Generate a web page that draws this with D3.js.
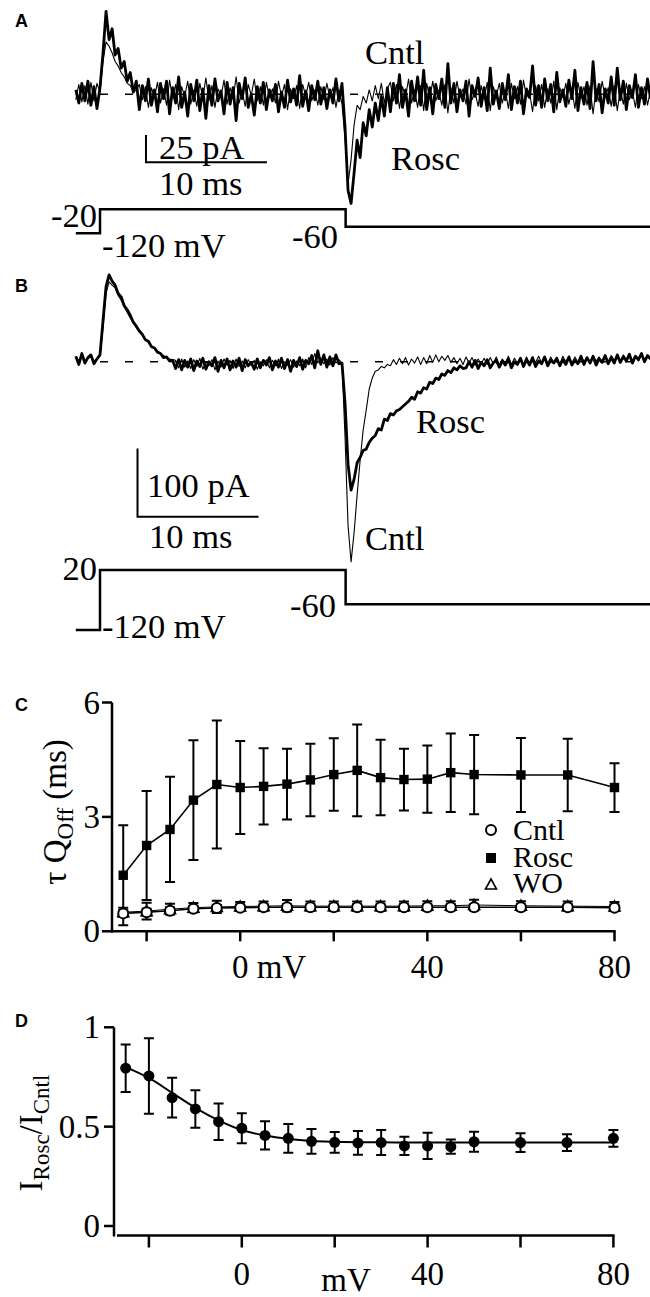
<!DOCTYPE html>
<html><head><meta charset="utf-8">
<script src="https://cdn.jsdelivr.net/npm/d3@7"></script>
<style>
body{margin:0;background:#fff}
svg{display:block}
</style>
</head><body>
<svg id="c" width="650" height="1297" font-family="'Liberation Serif', 'Times New Roman', Times, serif"></svg>
<script>
// ---------------- DATA ----------------
// current traces, sampled every 0.25 ms starting at -2 ms (pA)
const traceStart = -2, traceStep = 0.25;
const aRosc = [4,-8,10,-6,12,-10,7,-13,
 6,38,76,50,60,36,42,24,30,12,20,2,12,
 -14,8,-6,14,-10,4,-16,10,-4,12,-18,6,-8,16,-12,2,-20,9,-6,13,-15,5,-22,8,-10,14,-6,3,-18,11,
 -9,6,-24,10,-4,15,-12,0,-19,7,-8,11,-14,4,-6,9,-16,2,-12,13,-7,5,-10,17,-11,3,-15,8,-5,12,
 -9,6,-13,4,-8,14,-6,10,
 -30,-88,-100,-72,-42,-58,-26,-38,-14,-30,-8,-24,-2,-20,6,
 -16,10,-8,18,-12,4,-20,12,-6,16,-10,22,-14,6,-18,9,-4,14,-12,28,-8,10,-16,4,-6,12,-20,8,-2,15,
 -11,6,-15,24,-9,3,-13,10,-5,18,-14,7,-8,12,-18,5,-3,26,-10,8,-12,14,-6,9,-16,20,-7,4,-11,13,
 -4,22,-15,6,-9,11,-13,30,-6,9,-17,5,-8,16,-10,24,-5,12,-14,8,-3,18,-12,6,-9,14,-4];
const aCntl = [-5,9,-7,8,-9,11,-6,10,
 2,30,48,44,38,30,26,20,16,10,8,2,4,
 9,-5,7,-12,6,-3,11,-8,5,-10,13,-4,9,-14,7,-2,12,-9,4,-11,10,-3,15,-6,8,-12,5,-2,13,-9,
 6,-4,16,-8,3,-11,9,-1,14,-6,7,-10,11,-3,5,-8,12,-2,9,-14,5,-4,8,-13,9,-2,11,-6,4,-10,
 7,-5,10,-3,6,-12,4,-9,
 -40,-82,-60,-28,-10,-14,-2,-8,4,-6,8,-4,10,-8,5,
 11,-6,9,-13,7,-3,14,-8,4,-12,8,-15,10,-4,12,-6,3,-10,9,-17,6,-8,12,-3,5,-9,14,-5,2,-11,
 8,-5,11,-15,7,-2,10,-8,4,-13,10,-4,7,-9,13,-3,2,-16,8,-6,9,-12,5,-8,12,-14,6,-3,10,-9,
 4,-13,11,-4,7,-10,8,-18,5,-7,12,-3,6,-11,8,-15,4,-9,10,-5,3,-12,9,-4,7,-10,4];
const bRosc = [8,-4,12,-2,6,10,-3,4,
 10,60,110,127,118,112,100,95,82,76,68,58,52,45,40,32,30,22,20,14,12,6,7,1,2,
 -10,3,-12,2,-8,4,-13,1,-7,5,-11,0,-6,6,-14,2,-9,4,-12,1,-8,5,-13,3,-6,-1,-11,4,-9,2,
 -5,6,-12,1,-8,5,-10,3,-14,2,-7,6,-11,2,-3,9,-9,16,-4,10,-8,7,-6,10,-3,
 -2,-60,-150,-188,-172,-148,-140,-130,-128,-118,-112,-108,-98,-100,-84,-86,-76,-78,-72,-70,
 -66,-62,-58,-52,-55,-44,-46,-38,-40,-30,-32,-24,-26,-18,-20,-13,-16,-9,-12,-6,-10,
 -9,0,-8,2,-10,-1,-6,3,-9,-2,2,-8,1,-5,4,-9,0,-4,5,-7,3,-5,6,-7,1,-3,7,-6,2,-2,
 5,-6,3,-4,7,-5,2,-3,8,-4,6,-2,8,-5,4,-1,9,-3,6,-2,10,-1,7,1,11,-2,8,3,12,0,9,4];
const bCntl = [6,2,9,0,5,8,1,4,
 8,50,100,117,112,108,97,90,80,72,64,57,50,44,38,33,28,23,20,15,12,9,6,4,3,
 2,-9,4,-8,1,-10,3,-7,5,-11,0,-6,3,-12,1,-8,4,-5,2,-10,4,-7,1,-9,3,-5,2,-11,0,-6,
 3,-9,2,-6,4,-10,0,-5,3,-8,1,-6,4,-9,6,-4,12,-2,5,-3,4,-5,6,-2,3,
 -2,-110,-240,-293,-250,-195,-144,-100,-71,-40,-24,-14,-12,-7,-9,-4,-6,
 3,-4,5,-3,6,-5,4,-2,7,-4,6,-3,9,-1,10,0,8,2,9,-1,6,-3,5,-4,7,-2,6,-5,4,-3,
 5,-4,6,-3,7,-5,4,-2,8,-4,5,-2,6,-4,7,-3,5,-1,8,-2,6,-3,7,-1,5,-4,8,0,6,-2,
 7,-1,8,0,6,-2,9,1,7,-1,8,0,9,2,6,1,10,3,8,2,9,1,10,3,8,4];

// voltage protocols (ms, mV)
const protoTimes = [-2, 0, 0, 20.3, 20.3, 45.5];
const protoA = [-120, -120, -20, -20, -60, -60];
const protoB = [-120, -120, 20, 20, -60, -60];

// panel C: tau Q_off (ms)
const voltages = [-25,-20,-15,-10,-5,0,5,10,15,20,25,30,35,40,45,50,60,70,80];
const tauRosc = [1.47,2.25,2.67,3.44,3.85,3.77,3.80,3.86,3.97,4.11,4.22,4.03,3.98,3.99,4.16,4.11,4.10,4.10,3.77];
const tauRoscErr = [1.31,1.43,1.38,1.57,1.68,1.22,1.00,0.93,0.95,0.95,1.20,0.99,0.81,0.88,1.03,1.04,0.97,0.95,0.64];
const tauCntl = [0.47,0.50,0.54,0.59,0.61,0.62,0.63,0.63,0.63,0.63,0.63,0.63,0.63,0.63,0.63,0.63,0.63,0.63,0.62];
const tauCntlErr = [0.08,0.09,0.09,0.08,0.08,0.08,0.08,0.08,0.08,0.08,0.08,0.08,0.08,0.08,0.08,0.08,0.08,0.08,0.08];
const tauWO = [0.50,0.53,0.58,0.62,0.64,0.65,0.66,0.67,0.66,0.66,0.66,0.66,0.66,0.67,0.67,0.69,0.67,0.66,0.65];
const tauWOErr = [0.12,0.22,0.14,0.12,0.16,0.12,0.12,0.15,0.12,0.12,0.12,0.12,0.12,0.12,0.12,0.14,0.12,0.12,0.12];
const cTicksY = [0, 3, 6];
const cTicksX = [-20, 0, 20, 40, 60, 80];
const cTickLabels = {0: "0 mV", 40: "40", 80: "80"};

// panel D: I_Rosc / I_Cntl
const ratio = [0.794,0.755,0.646,0.589,0.525,0.492,0.456,0.441,0.426,0.421,0.418,0.420,0.403,0.403,0.399,0.424,0.420,0.420,0.441];
const ratioErr = [0.12,0.19,0.10,0.094,0.092,0.075,0.071,0.072,0.062,0.052,0.06,0.063,0.046,0.066,0.036,0.05,0.047,0.042,0.042];
const fitV = [-25,-20,-15,-10,-5,0,5,10,15,20,30,40,50,60,70,80];
const fitRatio = [0.80,0.745,0.67,0.595,0.532,0.483,0.455,0.438,0.428,0.424,0.421,0.42,0.42,0.42,0.42,0.42];
const dTicksY = [0, 0.5, 1];
const dTickLabelsY = {0: "0", 0.5: "0.5", 1: "1"};
const dTicksX = [-20, 0, 20, 40, 60, 80];
const dTickLabelsX = {0: "0", 40: "40", 80: "80"};

// ---------------- DRAW ----------------
const SERIF = "'Liberation Serif', 'Times New Roman', Times, serif";
const SANS = "'Liberation Sans', Arial, Helvetica, sans-serif";
const svg = d3.select("#c");
const FS = 33, FS_TR = 34.5;
function txt(g, x, y, s, size, anchor) {
  return g.append("text").attr("x", x).attr("y", y).attr("font-family", SERIF)
    .attr("font-size", size || FS).attr("text-anchor", anchor || "start").attr("fill", "#000").text(s);
}

[["A",27],["B",292],["C",711],["D",1027]].forEach(([s,y]) =>
  svg.append("text").attr("x",15).attr("y",y).attr("font-family",SANS).attr("font-weight","bold")
    .attr("font-size",18).text(s));

const xT = d3.scaleLinear().domain([0, 10]).range([100, 221]);
const tOf = i => traceStart + i * traceStep;

function tracePanel(g, yI, yV, cntl, rosc, proto, bar, labels) {
  g.append("line").attr("x1", xT(0)).attr("x2", 650).attr("y1", yI(0)).attr("y2", yI(0))
    .attr("stroke","#000").attr("stroke-width",1.6).attr("stroke-dasharray","8,17");
  const line = d3.line().x((d,i)=>xT(tOf(i))).y(d=>yI(d));
  g.append("path").attr("d", line(rosc)).attr("fill","none").attr("stroke","#000")
    .attr("stroke-width",2.8).attr("stroke-linejoin","round");
  g.append("path").attr("d", line(cntl)).attr("fill","none").attr("stroke","#000")
    .attr("stroke-width",1.1).attr("stroke-linejoin","round");
  const pl = d3.line().x((d,i)=>xT(protoTimes[i])).y(d=>yV(d));
  g.append("path").attr("d", pl(proto)).attr("fill","none").attr("stroke","#000").attr("stroke-width",2.5);
  const bx0 = xT(bar.t), by0 = yI(bar.i);
  g.append("path").attr("d", `M${bx0},${yI(bar.i + bar.di)}V${by0}H${xT(bar.t + bar.dt)}`)
    .attr("fill","none").attr("stroke","#000").attr("stroke-width",2);
  labels.forEach(l => txt(g, l.x, l.y, l.s, FS_TR, l.a));
}

// Panel A
tracePanel(svg.append("g"),
  d3.scaleLinear().domain([0,25]).range([94.3,67.0]),
  d3.scaleLinear().domain([-120,-60,-20]).range([233.3,226.7,209.3]),
  aCntl, aRosc, protoA,
  {t:3.8, i:-62.3, di:25, dt:10},
  [{x:365,y:64,s:"Cntl"},{x:391,y:170,s:"Rosc"},
   {x:159,y:159,s:"25 pA"},{x:159,y:195,s:"10 ms"},
   {x:97,y:227,s:"-20",a:"end"},{x:102,y:257,s:"-120 mV"},{x:338,y:248,s:"-60",a:"end"}]);

// Panel B
tracePanel(svg.append("g"),
  d3.scaleLinear().domain([0,100]).range([361.7,293.4]),
  d3.scaleLinear().domain([-120,20]).range([630,570]),
  bCntl, bRosc, protoB,
  {t:3.1, i:-227, di:100, dt:10},
  [{x:416,y:433,s:"Rosc"},{x:365,y:550,s:"Cntl"},
   {x:147,y:497,s:"100 pA"},{x:149,y:548,s:"10 ms"},
   {x:97,y:580,s:"20",a:"end"},{x:102,y:638,s:"-120 mV"},{x:336,y:617,s:"-60",a:"end"}]);

// Panel C
{
  const g = svg.append("g");
  const x = d3.scaleLinear().domain([0,80]).range([240.2,614.5]);
  const y = d3.scaleLinear().domain([0,6]).range([931.3,702.5]);
  const ax = 112;
  g.append("line").attr("x1",ax).attr("x2",ax).attr("y1",y(6)).attr("y2",y(0)+1.2).attr("stroke","#000").attr("stroke-width",2.5);
  g.append("line").attr("x1",ax).attr("x2",x(80)+1.2).attr("y1",y(0)).attr("y2",y(0)).attr("stroke","#000").attr("stroke-width",2.5);
  cTicksY.forEach(v=>{
    g.append("line").attr("x1",ax-10).attr("x2",ax).attr("y1",y(v)).attr("y2",y(v)).attr("stroke","#000").attr("stroke-width",2.5);
    txt(g, 100, y(v)+11, v, FS, "end");
  });
  cTicksX.forEach(v=>{
    g.append("line").attr("x1",x(v)).attr("x2",x(v)).attr("y1",y(0)).attr("y2",y(0)+10).attr("stroke","#000").attr("stroke-width",2.5);
    if (cTickLabels[v] !== undefined) {
      if (v === 0) txt(g, x(v)-8.3, 978, cTickLabels[v]);
      else txt(g, x(v), 978, cTickLabels[v], FS, "middle");
    }
  });
  const yl = g.append("text").attr("transform","translate(66,812) rotate(-90)").attr("text-anchor","middle")
    .attr("font-family",SERIF).attr("font-size",FS);
  yl.append("tspan").text("\u03C4 Q");
  yl.append("tspan").attr("font-size",23).attr("dy",7).text("Off");
  yl.append("tspan").attr("dy",-7).text(" (ms)");

  const series = [
    {v:tauWO, e:tauWOErr, sym:"tri", lw:1},
    {v:tauCntl, e:tauCntlErr, sym:"circ", lw:1.6},
    {v:tauRosc, e:tauRoscErr, sym:"sq", lw:1.6}
  ];
  series.forEach(s=>{
    voltages.forEach((vv,i)=>{
      const cx = x(vv);
      g.append("path").attr("d",`M${cx},${y(s.v[i]-s.e[i])}V${y(s.v[i]+s.e[i])}M${cx-5},${y(s.v[i]+s.e[i])}h10M${cx-5},${y(s.v[i]-s.e[i])}h10`)
        .attr("stroke","#000").attr("stroke-width",2).attr("fill","none");
    });
    g.append("path").attr("d", d3.line().x((d,i)=>x(voltages[i])).y(d=>y(d))(s.v))
      .attr("fill","none").attr("stroke","#000").attr("stroke-width",s.lw);
  });
  series.forEach(s=>{
    voltages.forEach((vv,i)=>{
      const cx = x(vv), cy = y(s.v[i]);
      if (s.sym==="sq") g.append("rect").attr("x",cx-4.7).attr("y",cy-4.7).attr("width",9.4).attr("height",9.4).attr("fill","#000");
      else if (s.sym==="circ") g.append("circle").attr("cx",cx).attr("cy",cy).attr("r",5).attr("fill","#fff").attr("stroke","#000").attr("stroke-width",2);
      else g.append("path").attr("d",`M${cx},${cy-5.5}L${cx+5.5},${cy+4.5}L${cx-5.5},${cy+4.5}Z`).attr("fill","#fff").attr("stroke","#000").attr("stroke-width",1.6);
    });
  });
  const lx = 491;
  g.append("circle").attr("cx",lx).attr("cy",830).attr("r",5).attr("fill","#fff").attr("stroke","#000").attr("stroke-width",2);
  g.append("rect").attr("x",lx-5).attr("y",853).attr("width",10).attr("height",10).attr("fill","#000");
  g.append("path").attr("d",`M${lx},${879}L${lx+5.5},${889}L${lx-5.5},${889}Z`).attr("fill","#fff").attr("stroke","#000").attr("stroke-width",1.6);
  [["Cntl",840],["Rosc",866.5],["WO",893]].forEach(([s,yy]) => txt(g, 513, yy, s, 30));
}

// Panel D
{
  const g = svg.append("g");
  const x = d3.scaleLinear().domain([0,80]).range([241.8,613.4]);
  const y = d3.scaleLinear().domain([0,1]).range([1226,1027.3]);
  const ax = 114, axY = 1235.5;
  g.append("line").attr("x1",ax).attr("x2",ax).attr("y1",y(1)).attr("y2",axY+1).attr("stroke","#000").attr("stroke-width",2.5);
  g.append("line").attr("x1",117).attr("x2",x(80)+1.2).attr("y1",axY).attr("y2",axY).attr("stroke","#000").attr("stroke-width",2.5);
  dTicksY.forEach(v=>{
    g.append("line").attr("x1",ax-10).attr("x2",ax).attr("y1",y(v)).attr("y2",y(v)).attr("stroke","#000").attr("stroke-width",2.5);
    txt(g, 100, y(v)+11, dTickLabelsY[v], FS, "end");
  });
  dTicksX.forEach(v=>{
    g.append("line").attr("x1",x(v)).attr("x2",x(v)).attr("y1",axY).attr("y2",axY+12).attr("stroke","#000").attr("stroke-width",2.5);
    if (dTickLabelsX[v] !== undefined) txt(g, x(v), 1285, dTickLabelsX[v], FS, "middle");
  });
  txt(g, 346, 1291, "mV", FS, "middle");
  const yl = g.append("text").attr("transform","translate(42,1133) rotate(-90)").attr("text-anchor","middle")
    .attr("font-family",SERIF).attr("font-size",FS);
  yl.append("tspan").text("I");
  yl.append("tspan").attr("font-size",23).attr("dy",7).text("Rosc");
  yl.append("tspan").attr("dy",-7).text("/I");
  yl.append("tspan").attr("font-size",23).attr("dy",7).text("Cntl");

  g.append("path").attr("d", d3.line().curve(d3.curveMonotoneX).x((d,i)=>x(fitV[i])).y(d=>y(d))(fitRatio))
    .attr("fill","none").attr("stroke","#000").attr("stroke-width",2);
  voltages.forEach((vv,i)=>{
    const cx = x(vv);
    g.append("path").attr("d",`M${cx},${y(ratio[i]-ratioErr[i])}V${y(ratio[i]+ratioErr[i])}M${cx-5},${y(ratio[i]+ratioErr[i])}h10M${cx-5},${y(ratio[i]-ratioErr[i])}h10`)
      .attr("stroke","#000").attr("stroke-width",2).attr("fill","none");
    g.append("circle").attr("cx",cx).attr("cy",y(ratio[i])).attr("r",5.5).attr("fill","#000");
  });
}
</script>
</body></html>
